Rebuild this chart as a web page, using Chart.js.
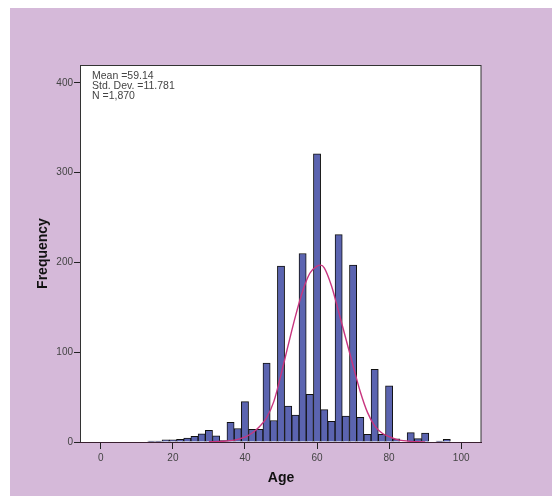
<!DOCTYPE html>
<html><head><meta charset="utf-8">
<script src="https://cdn.jsdelivr.net/npm/chart.js@4"></script>
<style>html,body{margin:0;padding:0;background:#fff;overflow:hidden}</style>
</head><body><canvas id="c" width="552" height="499" style="display:block;width:552px;height:499px"></canvas>
<script>
// Age bins (2-year wide, centered on even ages) and their frequencies
const binCenters = [14, 16, 18, 20, 22, 24, 26, 28, 30, 32, 34, 36, 38, 40, 42, 44, 46, 48, 50, 52, 54, 56, 58, 60, 62, 64, 66, 68, 70, 72, 74, 76, 78, 80, 82, 86, 88, 90, 94, 96];
const binCounts  = [1, 1, 2.5, 2.5, 3, 4.5, 6.3, 9, 13, 7, 1.5, 22, 15, 45, 14, 14, 88, 24, 196, 40, 30, 210, 53, 321, 36, 23, 231, 29, 197, 27.5, 8.6, 81, 8.6, 62.5, 3.5, 10.5, 3.7, 10, 1, 3];
// Normal curve
const curveAges = [30, 34, 36, 38, 40, 42, 44, 46, 48, 50, 52, 54, 56, 58, 60, 61, 62, 64, 66, 68, 70, 72, 74, 76, 78, 80, 82, 84, 86, 88, 90];
const curveFreq = [0.3, 0.8, 1.5, 3, 5.5, 10, 17, 27, 45, 75, 108, 140, 168, 188, 196, 197, 194, 174, 145, 115, 85, 56, 33, 18, 10, 6, 3, 1.5, 0.7, 0.3, 0.1];
const xTicks = [0, 20, 40, 60, 80, 100];
const yTicks = [0, 100, 200, 300, 400];
const statsLines = ['Mean =59.14', 'Std. Dev. =11.781', 'N =1,870'];
const xTitle = 'Age';
const yTitle = 'Frequency';

const FONT = '"Liberation Sans", Arial, sans-serif';

const bgPlugin = {
  id: 'bg',
  beforeDraw(chart) {
    const {ctx, chartArea: a} = chart;
    ctx.save();
    ctx.fillStyle = '#ffffff';
    ctx.fillRect(0, 0, chart.width, chart.height);
    ctx.fillStyle = '#d5b9d9';
    ctx.fillRect(10, 8, 542, 488);
    ctx.fillStyle = '#ffffff';
    ctx.fillRect(a.left, a.top, a.right - a.left, a.bottom - a.top);
    ctx.restore();
  },
  afterDraw(chart) {
    const {ctx, chartArea: a} = chart;
    ctx.save();
    ctx.strokeStyle = '#333';
    ctx.lineWidth = 1;
    ctx.strokeRect(a.left - 0.5, a.top + 0.5, a.right - a.left + 0.5, a.bottom - a.top);
    ctx.strokeStyle = '#3a2030';
    ctx.beginPath();
    ctx.moveTo(a.left - 1, a.bottom + 0.5);
    ctx.lineTo(a.right + 1, a.bottom + 0.5);
    ctx.stroke();
    ctx.fillStyle = '#444';
    ctx.font = '10.5px ' + FONT;
    ctx.textBaseline = 'middle';
    ctx.textAlign = 'left';
    statsLines.forEach((t, i) => ctx.fillText(t, a.left + 11, a.top + 11 + i * 10));
    ctx.restore();
  }
};

new Chart(document.getElementById('c'), {
  type: 'bar',
  data: {
    datasets: [
      {
        type: 'line',
        data: curveAges.map((x, i) => ({x, y: curveFreq[i]})),
        borderColor: '#c8357f',
        borderWidth: 1.4,
        pointRadius: 0,
        tension: 0.4,
        cubicInterpolationMode: 'monotone',
        fill: false,
        order: 0
      },
      {
        type: 'bar',
        data: binCenters.map((x, i) => ({x, y: binCounts[i]})),
        backgroundColor: '#5b64b0',
        borderColor: '#111',
        borderWidth: 1,
        barPercentage: 1,
        categoryPercentage: 1,
        order: 1
      }
    ]
  },
  options: {
    responsive: false,
    animation: false,
    devicePixelRatio: 1,
    layout: {padding: {left: 0, top: 65, right: 71, bottom: 0}},
    plugins: {legend: {display: false}, tooltip: {enabled: false}},
    scales: {
      x: {
        type: 'linear',
        min: -5.5,
        max: 105.5,
        offset: false,
        afterFit(s) { s.height = 57; },
        afterBuildTicks(s) { s.ticks = xTicks.map(v => ({value: v})); },
        grid: {display: true, offset: false, drawOnChartArea: false, drawTicks: true, tickLength: 7, tickColor: '#222', tickWidth: 1},
        border: {display: false},
        ticks: {color: '#444', font: {family: FONT, size: 10}, padding: 3, maxRotation: 0},
        title: {display: true, text: xTitle, color: '#111', font: {family: FONT, size: 14, weight: 'bold'}, padding: {top: 0, bottom: 12}}
      },
      y: {
        type: 'linear',
        min: 0,
        max: 420,
        afterFit(s) { s.width = 81; },
        afterBuildTicks(s) { s.ticks = yTicks.map(v => ({value: v})); },
        grid: {display: true, offset: false, drawOnChartArea: false, drawTicks: true, tickLength: 7, tickColor: '#222', tickWidth: 1},
        border: {display: false},
        ticks: {color: '#444', font: {family: FONT, size: 10}, padding: 1},
        title: {display: true, text: yTitle, color: '#111', font: {family: FONT, size: 14, weight: 'bold'}, padding: {top: 35, bottom: 0}}
      }
    }
  },
  plugins: [bgPlugin]
});
</script>
</body></html>
